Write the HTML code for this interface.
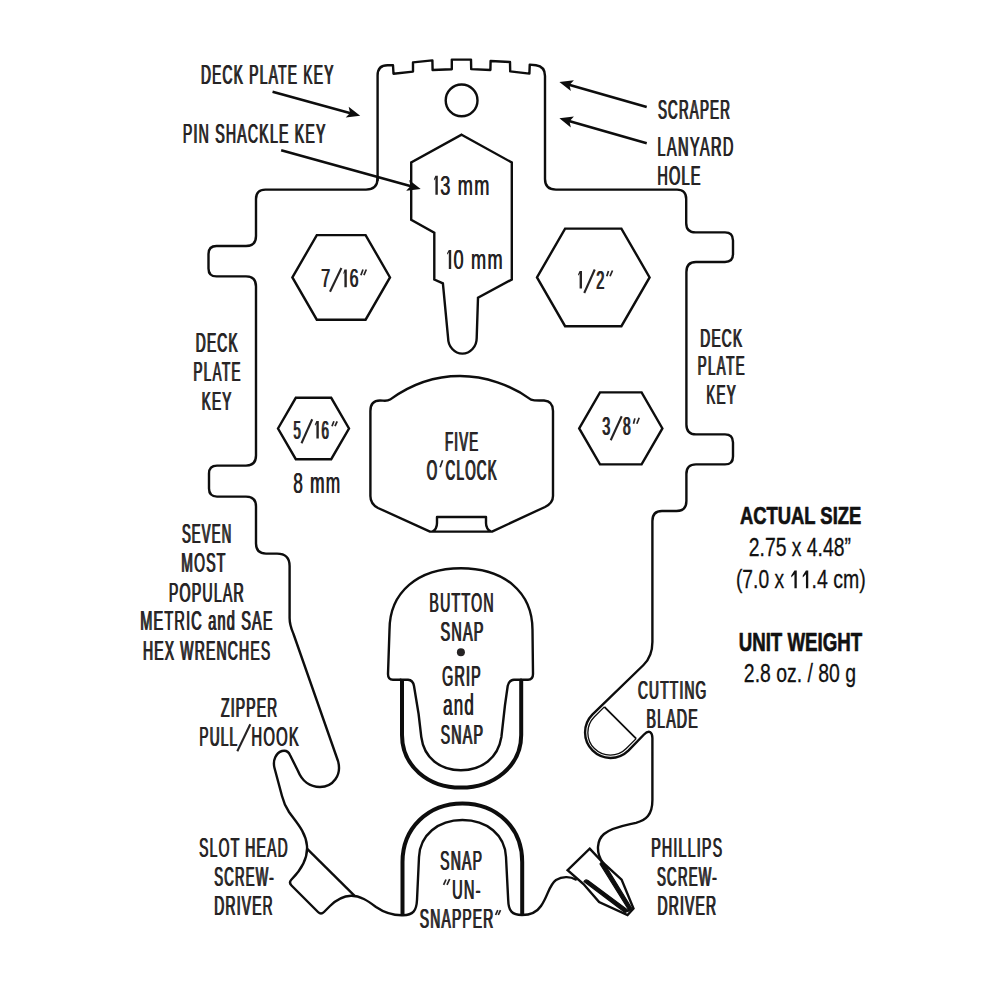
<!DOCTYPE html>
<html><head><meta charset="utf-8"><style>
html,body{margin:0;padding:0;background:#fff;}
body{width:1000px;height:1000px;overflow:hidden;font-family:"Liberation Sans",sans-serif;}
svg{display:block;}
</style></head><body>
<svg width="1000" height="1000" viewBox="0 0 1000 1000">
<rect width="1000" height="1000" fill="#fff"/>
<g fill="none" stroke="#0d0d0d" stroke-width="2.4" stroke-linejoin="round" stroke-linecap="round">
<path d="M 377.6 180 L 377.6 75.5 Q 377.6 65.3 387.6 65.3 L 393 65.2 L 393.5 73.8 L 413 71.6 L 413 62.4 L 432.4 60.4
L 432.6 70 L 451.8 69.2 L 451.8 59.6 L 471 59.6 L 471.2 69.1 L 490.4 70 L 490.6 61 L 510 62 L 510.2 71.4
L 529.4 73.6 L 529.75 64.6 L 536 65.3 Q 545 66.5 545 76
L 545 179 Q 545 189.6 556 189.6 L 677 189.6 Q 686.2 189.6 686.2 199 L 686.2 223 Q 686.2 232.4 695.5 232.4
L 725 232.4 Q 733 232.4 733 240.5 L 733 254 Q 733 262 725 262 L 696 262 Q 686.4 262 686.4 272
L 686.4 424.5 Q 686.4 434.4 696 434.4 L 725 434.4 Q 733 434.4 733 442.5 L 733 456.4 Q 733 464.4 725 464.4
L 696 464.4 Q 686.4 464.4 686.4 474 L 686.4 501 Q 686.4 511 676.5 511 L 662 511 Q 652.4 511 652.4 521
L 652.4 642 Q 652.4 656.3 643.5 665 L 592.32 714.62 A 25.5 25.5 0 0 0 628.38 750.68 L 644 734.5 Q 647.5 731 650 732 Q 652.4 733.5 652.4 738
L 652.4 800 C 652.4 815 646 820 636 822.8 C 626 825.2 612 827 604 834 C 597 840 595.5 852 602.7 862.5"/>
<path d="M 575.7 879.6 C 570 876 562 876.5 556 880 C 549 885 548 896 541 906 C 537 912 530 915 522 915
C 512 915 508.5 911 508.2 900 L 506 857 C 505 835 487 820 462.4 820 C 438 820 420 835 419 857
L 417 900 C 416.5 911 413 915 403 915.2
C 392 915.5 384 912.5 376 907 C 368 901 360 895.5 351 895.7 C 342 896 335 901 330 906 L 324 912
Q 321 915 318 912 L 291.5 885.5 Q 288.5 882.5 291.5 879.5 C 300 871 308 860 307 846
C 306 832 296 822 289 812 C 285 806 283 800 282 796 L 274.5 768
C 272.5 760 276 753 282 751 C 286 750 288.5 751.5 290 755 L 298 771 C 302 781 310 787 320 787
C 333 787 342 775 338 761 L 293.5 634 C 291 628 289.6 625 289.6 618 L 289.6 566
Q 289.6 553.6 277 553.6 L 266 553.6 Q 256 553.6 256 543.6 L 256 506.6 Q 256 496.6 246 496.6
L 217 496.6 Q 209 496.6 209 488.6 L 209 473.6 Q 209 465.6 217 465.6 L 246 465.6 Q 256 465.6 256 455.6
L 256 286.4 Q 256 276.4 246 276.4 L 216.5 276.4 Q 208.5 276.4 208.5 268.4 L 208.5 254 Q 208.5 246 216.5 246
L 246 246 Q 256 246 256 236 L 256 199 Q 256 189.6 265.4 189.6 L 366 189.6 Q 377.6 189.6 377.6 178"/>
<circle cx="461.6" cy="100.4" r="15.9"/>
<path d="M 461.6 134.7 L 511.8 162.5 L 511.8 279.5 L 478 297.7 L 476.7 338 A 14.3 15.6 0 0 1 448.1 338 L 442.9 283.4 L 434.3 279.5 L 434.3 232.7 L 411.2 219.7 L 411.2 162.5 Z" stroke-linejoin="miter"/>
<g stroke-linejoin="miter">
<polygon points="292.4,277.4 316.8,235.1 365.6,235.1 390.0,277.4 365.6,319.7 316.8,319.7"/>
<polygon points="537.0,277.4 565.1,228.6 621.4,228.6 649.6,277.4 621.4,326.2 565.1,326.2"/>
<polygon points="278.0,428.5 295.8,397.8 331.2,397.8 349.0,428.5 331.2,459.2 295.8,459.2"/>
<polygon points="579.2,428.4 600.0,392.4 641.6,392.4 662.4,428.4 641.6,464.4 600.0,464.4"/>
</g>
<path d="M 390 399.6 C 410 385 435 376 460 376 C 485 376 511 385 531 399.6 C 535 401 539 400.5 544 400.5
Q 553 401 553 411 L 553 496 Q 553 503 545 507 L 492 531.6 L 430 531.6 L 378 508 Q 370.4 504 370.4 496
L 370.4 411 Q 370.4 400.5 380 400.5 C 384 400.5 387 401.5 390 399.6 Z
M 432.5 531.6 Q 437 529 437 523 L 437 517 L 486 517 L 486 523 Q 486 529 491 531.6"/>
<path d="M 400.6 679.7 L 393 679.7 Q 388 679.7 388 674 L 389.5 630 C 389.5 592 418 568.2 461 568.2
C 504 568.2 532.5 592 532.5 630 L 533 674 Q 533 679.7 528 679.7 L 521 679.7"/>
<path d="M 400.6 679.7 L 408 679.7 Q 413 680 414 686 L 418.6 714 L 421.3 737 C 424 758 440 770.2 460.9 770.2
C 482 770.2 498 758 501.4 737 L 505 705 L 507.7 686 Q 509 680 514 679.7 L 521 679.7"/>
</g>
<path d="M 402 679 L 402 735 C 402 766 428 787.6 460.9 787.6 C 494 787.6 521.2 766 521.2 735 L 521.2 679" fill="none" stroke="#0d0d0d" stroke-width="4.0"/>
<path d="M 402.5 915.5 L 402.5 862 C 402.5 828 428 803.4 462.4 803.4 C 497 803.4 522.2 828 522.2 862 L 522.2 915.5" fill="none" stroke="#0d0d0d" stroke-width="4.0"/>
<g fill="none" stroke="#0d0d0d" stroke-width="1.3">
<path d="M 604.34 706.84 L 594.44 716.74 A 22.5 22.5 0 0 0 626.26 748.56 L 636.16 738.66"/>
<path d="M 604.34 706.84 L 636.16 738.66" stroke-width="1.8"/>
</g>
<path d="M 307.2 848.8 L 354.4 895.7" stroke="#0d0d0d" stroke-width="2.4" fill="none"/>
<g fill="none" stroke="#0d0d0d" stroke-width="2.4" stroke-linejoin="miter">
<path d="M 589.7 848.6 L 602.7 862.5 L 621.6 879.6 L 633.5 908.5 L 627.5 915 L 599.1 902.1 L 583.5 884 L 567.6 870.2 Z"/>
</g>
<path d="M 600 864 Q 601 861 604 863 L 632.5 909.5 L 629 910.5 Z" fill="#0d0d0d" stroke="#0d0d0d" stroke-width="1.2" stroke-linejoin="round"/>
<path d="M 584 881.5 Q 585 879 588 880.5 L 629 911 L 625 912.5 Z" fill="#0d0d0d" stroke="#0d0d0d" stroke-width="1.2" stroke-linejoin="round"/>
<g transform="translate(360.2,115.8) rotate(15.38)"><line x1="-90.9" y1="0" x2="-9" y2="0" stroke="#0d0d0d" stroke-width="2.6"/><path d="M0 0 L-13.5 -5.6 L-10.5 0 L-13.5 5.6 Z" fill="#0d0d0d"/></g>
<g transform="translate(420.7,188.9) rotate(15.51)"><line x1="-144.8" y1="0" x2="-9" y2="0" stroke="#0d0d0d" stroke-width="2.6"/><path d="M0 0 L-13.5 -5.6 L-10.5 0 L-13.5 5.6 Z" fill="#0d0d0d"/></g>
<g transform="translate(559.4,82.0) rotate(-164.08)"><line x1="-90.8" y1="0" x2="-9" y2="0" stroke="#0d0d0d" stroke-width="2.6"/><path d="M0 0 L-13.5 -5.6 L-10.5 0 L-13.5 5.6 Z" fill="#0d0d0d"/></g>
<g transform="translate(559.4,118.3) rotate(-164.08)"><line x1="-90.8" y1="0" x2="-9" y2="0" stroke="#0d0d0d" stroke-width="2.6"/><path d="M0 0 L-13.5 -5.6 L-10.5 0 L-13.5 5.6 Z" fill="#0d0d0d"/></g>
<g id="lbl" font-family="Liberation Sans, sans-serif" fill="#262324">
<text transform="translate(200.47,84.20) scale(0.5031,1)" font-size="27.33" font-weight="normal" textLength="263.36" lengthAdjust="spacing">DECK PLATE KEY</text><text transform="translate(201.42,84.20) scale(0.5031,1)" font-size="27.33" font-weight="normal" textLength="263.36" lengthAdjust="spacing">DECK PLATE KEY</text>
<text transform="translate(182.44,142.60) scale(0.5232,1)" font-size="27.03" font-weight="normal" textLength="272.51" lengthAdjust="spacing">PIN SHACKLE KEY</text><text transform="translate(183.35,142.60) scale(0.5232,1)" font-size="27.03" font-weight="normal" textLength="272.51" lengthAdjust="spacing">PIN SHACKLE KEY</text>
<text transform="translate(657.49,119.40) scale(0.4817,1)" font-size="27.76" font-weight="normal" textLength="149.16" lengthAdjust="spacing">SCRAPER</text><text transform="translate(658.47,119.40) scale(0.4817,1)" font-size="27.76" font-weight="normal" textLength="149.16" lengthAdjust="spacing">SCRAPER</text>
<text transform="translate(656.90,156.10) scale(0.5257,1)" font-size="27.76" font-weight="normal" textLength="144.83" lengthAdjust="spacing">LANYARD</text><text transform="translate(657.77,156.10) scale(0.5257,1)" font-size="27.76" font-weight="normal" textLength="144.83" lengthAdjust="spacing">LANYARD</text>
<text transform="translate(656.91,185.00) scale(0.5244,1)" font-size="27.62" font-weight="normal" textLength="82.07" lengthAdjust="spacing">HOLE</text><text transform="translate(657.79,185.00) scale(0.5244,1)" font-size="27.62" font-weight="normal" textLength="82.07" lengthAdjust="spacing">HOLE</text>
<text transform="translate(440.01,194.80) scale(0.6586,1)" font-size="27.62" font-weight="normal" textLength="74.51" lengthAdjust="spacing">3 mm</text><text transform="translate(440.53,194.80) scale(0.6586,1)" font-size="27.62" font-weight="normal" textLength="74.51" lengthAdjust="spacing">3 mm</text>
<text transform="translate(453.29,269.10) scale(0.6504,1)" font-size="27.91" font-weight="normal" textLength="75.30" lengthAdjust="spacing">0 mm</text><text transform="translate(453.82,269.10) scale(0.6504,1)" font-size="27.91" font-weight="normal" textLength="75.30" lengthAdjust="spacing">0 mm</text>
<text transform="translate(195.27,352.00) scale(0.5161,1)" font-size="26.74" font-weight="normal" textLength="81.28" lengthAdjust="spacing">DECK</text><text transform="translate(196.21,352.00) scale(0.5161,1)" font-size="26.74" font-weight="normal" textLength="81.28" lengthAdjust="spacing">DECK</text>
<text transform="translate(192.91,381.00) scale(0.4937,1)" font-size="27.03" font-weight="normal" textLength="95.37" lengthAdjust="spacing">PLATE</text><text transform="translate(193.89,381.00) scale(0.4937,1)" font-size="27.03" font-weight="normal" textLength="95.37" lengthAdjust="spacing">PLATE</text>
<text transform="translate(201.28,410.00) scale(0.5207,1)" font-size="26.16" font-weight="normal" textLength="56.96" lengthAdjust="spacing">KEY</text><text transform="translate(202.24,410.00) scale(0.5207,1)" font-size="26.16" font-weight="normal" textLength="56.96" lengthAdjust="spacing">KEY</text>
<text transform="translate(699.87,346.50) scale(0.5217,1)" font-size="26.31" font-weight="normal" textLength="79.99" lengthAdjust="spacing">DECK</text><text transform="translate(700.82,346.50) scale(0.5217,1)" font-size="26.31" font-weight="normal" textLength="79.99" lengthAdjust="spacing">DECK</text>
<text transform="translate(697.32,375.00) scale(0.4887,1)" font-size="27.03" font-weight="normal" textLength="95.47" lengthAdjust="spacing">PLATE</text><text transform="translate(698.31,375.00) scale(0.4887,1)" font-size="27.03" font-weight="normal" textLength="95.47" lengthAdjust="spacing">PLATE</text>
<text transform="translate(705.89,404.00) scale(0.4893,1)" font-size="27.62" font-weight="normal" textLength="60.16" lengthAdjust="spacing">KEY</text><text transform="translate(706.86,404.00) scale(0.4893,1)" font-size="27.62" font-weight="normal" textLength="60.16" lengthAdjust="spacing">KEY</text>
<text transform="translate(292.95,492.60) scale(0.5755,1)" font-size="30.09" font-weight="normal" textLength="81.47" lengthAdjust="spacing">8 mm</text><text transform="translate(293.55,492.60) scale(0.5755,1)" font-size="30.09" font-weight="normal" textLength="81.47" lengthAdjust="spacing">8 mm</text>
<text transform="translate(444.51,451.00) scale(0.4904,1)" font-size="27.03" font-weight="normal" textLength="67.43" lengthAdjust="spacing">FIVE</text><text transform="translate(445.50,451.00) scale(0.4904,1)" font-size="27.03" font-weight="normal" textLength="67.43" lengthAdjust="spacing">FIVE</text>
<text transform="translate(426.17,480.40) scale(0.4642,1)" font-size="28.78" font-weight="normal" textLength="22.39" lengthAdjust="spacing">O</text><text transform="translate(427.15,480.40) scale(0.4642,1)" font-size="28.78" font-weight="normal" textLength="22.39" lengthAdjust="spacing">O</text>
<text transform="translate(445.12,480.40) scale(0.4665,1)" font-size="28.78" font-weight="normal" textLength="109.44" lengthAdjust="spacing">CLOCK</text><text transform="translate(446.09,480.40) scale(0.4665,1)" font-size="28.78" font-weight="normal" textLength="109.44" lengthAdjust="spacing">CLOCK</text>
<text transform="translate(181.40,543.00) scale(0.4851,1)" font-size="27.03" font-weight="normal" textLength="101.55" lengthAdjust="spacing">SEVEN</text><text transform="translate(182.41,543.00) scale(0.4851,1)" font-size="27.03" font-weight="normal" textLength="101.55" lengthAdjust="spacing">SEVEN</text>
<text transform="translate(180.85,572.00) scale(0.5222,1)" font-size="26.74" font-weight="normal" textLength="84.15" lengthAdjust="spacing">MOST</text><text transform="translate(181.78,572.00) scale(0.5222,1)" font-size="26.74" font-weight="normal" textLength="84.15" lengthAdjust="spacing">MOST</text>
<text transform="translate(168.44,601.50) scale(0.5269,1)" font-size="26.89" font-weight="normal" textLength="142.18" lengthAdjust="spacing">POPULAR</text><text transform="translate(169.34,601.50) scale(0.5269,1)" font-size="26.89" font-weight="normal" textLength="142.18" lengthAdjust="spacing">POPULAR</text>
<text transform="translate(139.81,630.00) scale(0.5388,1)" font-size="26.89" font-weight="normal" textLength="245.63" lengthAdjust="spacing">METRIC and SAE</text><text transform="translate(140.69,630.00) scale(0.5388,1)" font-size="26.89" font-weight="normal" textLength="245.63" lengthAdjust="spacing">METRIC and SAE</text>
<text transform="translate(142.45,659.60) scale(0.5166,1)" font-size="27.03" font-weight="normal" textLength="246.36" lengthAdjust="spacing">HEX WRENCHES</text><text transform="translate(143.38,659.60) scale(0.5166,1)" font-size="27.03" font-weight="normal" textLength="246.36" lengthAdjust="spacing">HEX WRENCHES</text>
<text transform="translate(428.94,611.60) scale(0.4996,1)" font-size="28.34" font-weight="normal" textLength="128.52" lengthAdjust="spacing">BUTTON</text><text transform="translate(429.84,611.60) scale(0.4996,1)" font-size="28.34" font-weight="normal" textLength="128.52" lengthAdjust="spacing">BUTTON</text>
<text transform="translate(440.09,640.90) scale(0.5090,1)" font-size="28.34" font-weight="normal" textLength="84.25" lengthAdjust="spacing">SNAP</text><text transform="translate(440.97,640.90) scale(0.5090,1)" font-size="28.34" font-weight="normal" textLength="84.25" lengthAdjust="spacing">SNAP</text>
<text transform="translate(441.68,686.10) scale(0.4972,1)" font-size="28.78" font-weight="normal" textLength="77.60" lengthAdjust="spacing">GRIP</text><text transform="translate(442.57,686.10) scale(0.4972,1)" font-size="28.78" font-weight="normal" textLength="77.60" lengthAdjust="spacing">GRIP</text>
<text transform="translate(442.78,715.10) scale(0.5743,1)" font-size="29.51" font-weight="normal" textLength="53.41" lengthAdjust="spacing">and</text><text transform="translate(443.42,715.10) scale(0.5743,1)" font-size="29.51" font-weight="normal" textLength="53.41" lengthAdjust="spacing">and</text>
<text transform="translate(440.15,744.20) scale(0.5046,1)" font-size="28.20" font-weight="normal" textLength="83.92" lengthAdjust="spacing">SNAP</text><text transform="translate(441.05,744.20) scale(0.5046,1)" font-size="28.20" font-weight="normal" textLength="83.92" lengthAdjust="spacing">SNAP</text>
<text transform="translate(637.50,698.70) scale(0.5254,1)" font-size="26.16" font-weight="normal" textLength="129.97" lengthAdjust="spacing">CUTTING</text><text transform="translate(638.45,698.70) scale(0.5254,1)" font-size="26.16" font-weight="normal" textLength="129.97" lengthAdjust="spacing">CUTTING</text>
<text transform="translate(646.04,728.00) scale(0.4988,1)" font-size="28.34" font-weight="normal" textLength="102.57" lengthAdjust="spacing">BLADE</text><text transform="translate(646.95,728.00) scale(0.4988,1)" font-size="28.34" font-weight="normal" textLength="102.57" lengthAdjust="spacing">BLADE</text>
<text transform="translate(220.56,717.00) scale(0.5136,1)" font-size="27.03" font-weight="normal" textLength="109.33" lengthAdjust="spacing">ZIPPER</text><text transform="translate(221.49,717.00) scale(0.5136,1)" font-size="27.03" font-weight="normal" textLength="109.33" lengthAdjust="spacing">ZIPPER</text>
<text transform="translate(198.88,745.80) scale(0.4903,1)" font-size="27.91" font-weight="normal" textLength="77.15" lengthAdjust="spacing">PULL</text><text transform="translate(199.83,745.80) scale(0.4903,1)" font-size="27.91" font-weight="normal" textLength="77.15" lengthAdjust="spacing">PULL</text>
<text transform="translate(250.98,745.80) scale(0.5323,1)" font-size="27.91" font-weight="normal" textLength="88.94" lengthAdjust="spacing">HOOK</text><text transform="translate(251.82,745.80) scale(0.5323,1)" font-size="27.91" font-weight="normal" textLength="88.94" lengthAdjust="spacing">HOOK</text>
<text transform="translate(198.67,857.00) scale(0.5045,1)" font-size="27.62" font-weight="normal" textLength="175.56" lengthAdjust="spacing">SLOT HEAD</text><text transform="translate(199.59,857.00) scale(0.5045,1)" font-size="27.62" font-weight="normal" textLength="175.56" lengthAdjust="spacing">SLOT HEAD</text>
<text transform="translate(213.70,886.00) scale(0.4767,1)" font-size="27.62" font-weight="normal" textLength="124.58" lengthAdjust="spacing">SCREW-</text><text transform="translate(214.70,886.00) scale(0.4767,1)" font-size="27.62" font-weight="normal" textLength="124.58" lengthAdjust="spacing">SCREW-</text>
<text transform="translate(213.87,915.00) scale(0.5087,1)" font-size="27.18" font-weight="normal" textLength="114.49" lengthAdjust="spacing">DRIVER</text><text transform="translate(214.80,915.00) scale(0.5087,1)" font-size="27.18" font-weight="normal" textLength="114.49" lengthAdjust="spacing">DRIVER</text>
<text transform="translate(650.73,857.00) scale(0.5211,1)" font-size="27.33" font-weight="normal" textLength="136.11" lengthAdjust="spacing">PHILLIPS</text><text transform="translate(651.63,857.00) scale(0.5211,1)" font-size="27.33" font-weight="normal" textLength="136.11" lengthAdjust="spacing">PHILLIPS</text>
<text transform="translate(656.50,886.00) scale(0.4795,1)" font-size="27.62" font-weight="normal" textLength="124.50" lengthAdjust="spacing">SCREW-</text><text transform="translate(657.49,886.00) scale(0.4795,1)" font-size="27.62" font-weight="normal" textLength="124.50" lengthAdjust="spacing">SCREW-</text>
<text transform="translate(656.96,915.00) scale(0.5128,1)" font-size="27.18" font-weight="normal" textLength="114.40" lengthAdjust="spacing">DRIVER</text><text transform="translate(657.88,915.00) scale(0.5128,1)" font-size="27.18" font-weight="normal" textLength="114.40" lengthAdjust="spacing">DRIVER</text>
<text transform="translate(439.66,870.00) scale(0.5088,1)" font-size="27.62" font-weight="normal" textLength="82.28" lengthAdjust="spacing">SNAP</text><text transform="translate(440.58,870.00) scale(0.5088,1)" font-size="27.62" font-weight="normal" textLength="82.28" lengthAdjust="spacing">SNAP</text>
<text transform="translate(320.77,287.20) scale(0.6321,1)" font-size="25.73" font-weight="normal" textLength="14.31" lengthAdjust="spacing">7</text><text transform="translate(321.47,287.20) scale(0.6321,1)" font-size="25.73" font-weight="normal" textLength="14.31" lengthAdjust="spacing">7</text>
<text transform="translate(349.29,287.20) scale(0.6203,1)" font-size="25.73" font-weight="normal" textLength="14.31" lengthAdjust="spacing">6</text><text transform="translate(350.03,287.20) scale(0.6203,1)" font-size="25.73" font-weight="normal" textLength="14.31" lengthAdjust="spacing">6</text>
<text transform="translate(595.77,288.50) scale(0.5805,1)" font-size="25.07" font-weight="normal" textLength="13.94" lengthAdjust="spacing">2</text><text transform="translate(596.64,288.50) scale(0.5805,1)" font-size="25.07" font-weight="normal" textLength="13.94" lengthAdjust="spacing">2</text>
<text transform="translate(292.98,438.60) scale(0.5103,1)" font-size="25.58" font-weight="normal" textLength="14.23" lengthAdjust="spacing">5</text><text transform="translate(293.99,438.60) scale(0.5103,1)" font-size="25.58" font-weight="normal" textLength="14.23" lengthAdjust="spacing">5</text>
<text transform="translate(320.93,438.60) scale(0.5173,1)" font-size="25.58" font-weight="normal" textLength="14.23" lengthAdjust="spacing">6</text><text transform="translate(321.92,438.60) scale(0.5173,1)" font-size="25.58" font-weight="normal" textLength="14.23" lengthAdjust="spacing">6</text>
<text transform="translate(601.75,435.40) scale(0.5586,1)" font-size="25.73" font-weight="normal" textLength="14.31" lengthAdjust="spacing">3</text><text transform="translate(602.64,435.40) scale(0.5586,1)" font-size="25.73" font-weight="normal" textLength="14.31" lengthAdjust="spacing">3</text>
<text transform="translate(622.60,435.40) scale(0.5348,1)" font-size="25.73" font-weight="normal" textLength="14.31" lengthAdjust="spacing">8</text><text transform="translate(623.55,435.40) scale(0.5348,1)" font-size="25.73" font-weight="normal" textLength="14.31" lengthAdjust="spacing">8</text>
<text transform="translate(451.67,898.90) scale(0.5192,1)" font-size="28.20" font-weight="normal" textLength="54.74" lengthAdjust="spacing">UN-</text><text transform="translate(452.53,898.90) scale(0.5192,1)" font-size="28.20" font-weight="normal" textLength="54.74" lengthAdjust="spacing">UN-</text>
<text transform="translate(419.37,928.10) scale(0.4941,1)" font-size="28.05" font-weight="normal" textLength="148.64" lengthAdjust="spacing">SNAPPER</text><text transform="translate(420.30,928.10) scale(0.4941,1)" font-size="28.05" font-weight="normal" textLength="148.64" lengthAdjust="spacing">SNAPPER</text>
</g>
<g stroke="#262324" stroke-linecap="butt" fill="none">
<line x1="237.3" y1="751.2" x2="250.3" y2="724.2" stroke-width="2.1"/>
<line x1="330" y1="291.7" x2="341.4" y2="268" stroke-width="2.1"/>
<line x1="584.25" y1="293" x2="594.75" y2="269.5" stroke-width="2.1"/>
<line x1="301.5" y1="443.3" x2="312.2" y2="419.3" stroke-width="2.1"/>
<line x1="610.7" y1="440.2" x2="621.7" y2="416.2" stroke-width="2.1"/>
<line x1="440.1" y1="467.2" x2="442.6" y2="460.3" stroke-width="1.7"/>
<line x1="360.9" y1="275.2" x2="363" y2="269.5" stroke-width="1.7"/>
<line x1="363.9" y1="275.2" x2="366.3" y2="269.5" stroke-width="1.7"/>
<line x1="606.75" y1="276.25" x2="608.5" y2="271" stroke-width="1.7"/>
<line x1="610" y1="276.25" x2="612.5" y2="270.5" stroke-width="1.7"/>
<line x1="332" y1="426.2" x2="333.9" y2="421.3" stroke-width="1.7"/>
<line x1="335" y1="426.2" x2="337.2" y2="421.3" stroke-width="1.7"/>
<line x1="633.5" y1="423.7" x2="634.9" y2="418.4" stroke-width="1.7"/>
<line x1="636.8" y1="423.7" x2="639.2" y2="417.7" stroke-width="1.7"/>
<line x1="443.6" y1="884.9" x2="446" y2="879.5" stroke-width="1.7"/>
<line x1="447" y1="884.9" x2="449.7" y2="879" stroke-width="1.7"/>
<line x1="495.6" y1="915" x2="497.8" y2="910.1" stroke-width="1.7"/>
<line x1="498.3" y1="915" x2="500.5" y2="910.1" stroke-width="1.7"/>
</g>
<path d="M 433.9 179.2 L 435.4 175.8 L 437.8 175.8 L 437.8 194.8 L 435.4 194.8 L 435.4 178.2 L 434.3 180.6 Z" fill="#262324"/>
<path d="M 447.0 253.3 L 448.8 249.9 L 451.2 249.9 L 451.2 269.1 L 448.8 269.1 L 448.8 252.3 L 447.4 254.7 Z" fill="#262324"/>
<path d="M 343.4 272.9 L 344.4 269.5 L 346.8 269.5 L 346.8 287.2 L 344.4 287.2 L 344.4 271.9 L 343.8 274.3 Z" fill="#262324"/>
<path d="M 578.0 274.4 L 579.6 271.0 L 582.0 271.0 L 582.0 288.5 L 579.6 288.5 L 579.6 273.4 L 578.4 275.8 Z" fill="#262324"/>
<path d="M 314.8 424.4 L 316.4 421.0 L 318.8 421.0 L 318.8 438.6 L 316.4 438.6 L 316.4 423.4 L 315.2 425.8 Z" fill="#262324"/>
<circle cx="460.9" cy="652.2" r="4" fill="#262324"/>
<g font-family="Liberation Sans, sans-serif">
<text x="739.99" y="523.75" font-size="24.78" font-weight="bold" fill="#111" stroke="#111" stroke-width="0.7" stroke-linejoin="round" textLength="121.27" lengthAdjust="spacingAndGlyphs">ACTUAL SIZE</text>
<text x="748.78" y="555.55" font-size="25.36" font-weight="normal" fill="#111" stroke="#111" stroke-width="0.3" stroke-linejoin="round" textLength="102.18" lengthAdjust="spacingAndGlyphs">2.75 x 4.48”</text>
<text x="735.96" y="588.05" font-size="25.22" font-weight="normal" fill="#111" stroke="#111" stroke-width="0.3" stroke-linejoin="round" textLength="48.10" lengthAdjust="spacingAndGlyphs">(7.0 x</text>
<text x="811.62" y="588.05" font-size="25.22" font-weight="normal" fill="#111" stroke="#111" stroke-width="0.3" stroke-linejoin="round" textLength="54.14" lengthAdjust="spacingAndGlyphs">.4 cm)</text>
<path d="M 791.25 575.60 L 794.45 570.60 L 796.75 570.60 L 796.75 588.20 L 794.45 588.20 L 794.45 574.20 L 791.25 577.60 Z" fill="#111"/>
<path d="M 802.75 575.60 L 805.95 570.60 L 808.25 570.60 L 808.25 588.20 L 805.95 588.20 L 805.95 574.20 L 802.75 577.60 Z" fill="#111"/>
<text x="738.73" y="650.75" font-size="25.94" font-weight="bold" fill="#111" stroke="#111" stroke-width="0.7" stroke-linejoin="round" textLength="123.42" lengthAdjust="spacingAndGlyphs">UNIT WEIGHT</text>
<text x="743.87" y="682.15" font-size="25.65" font-weight="normal" fill="#111" stroke="#111" stroke-width="0.3" stroke-linejoin="round" textLength="112.23" lengthAdjust="spacingAndGlyphs">2.8 oz. / 80 g</text>
</g>
</svg>
</body></html>
